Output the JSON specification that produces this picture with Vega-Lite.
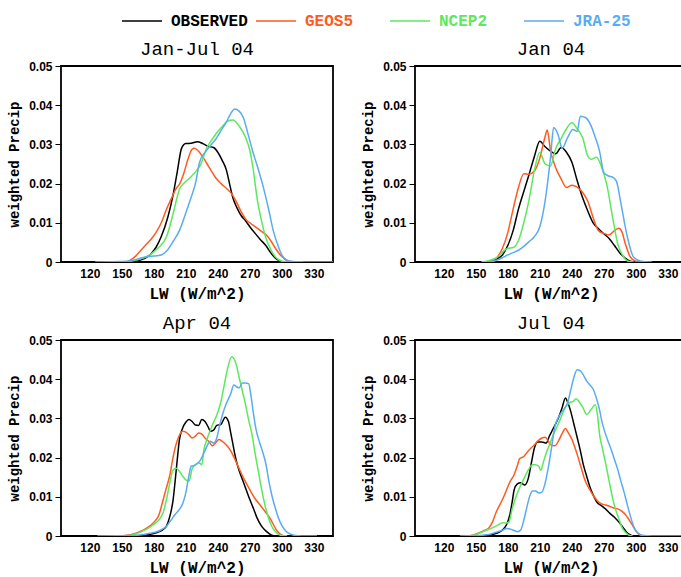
{
"$schema": "https://vega.github.io/schema/vega-lite/v6.json",
"padding": {"left": 6, "top": 0, "right": 0, "bottom": 0},
"background": "white",
"config": {
  "view": {"stroke": "#000000", "strokeWidth": 1.8},
  "title": {"font": "Liberation Mono", "fontSize": 19, "fontWeight": "normal", "color": "#000000", "offset": 1, "anchor": "middle"},
  "axis": {"grid": false, "domain": false, "labelColor": "#000000", "titleColor": "#000000"},
  "legend": {"orient": "none", "legendX": 60, "legendY": -66, "direction": "horizontal", "columns": 4, "gridAlign": "all", "columnPadding": 5, "padding": 0, "symbolType": "stroke", "symbolSize": 1600, "symbolStrokeWidth": 1.5, "labelFont": "Liberation Mono", "labelFontSize": 16, "labelFontWeight": "bold", "labelOffset": 8, "title": null}
},
"datasets": {
"p1": [
{"s":"OBSERVED","x":140,"y":0},{"s":"OBSERVED","x":155,"y":0},{"s":"OBSERVED","x":165,"y":0.0003},{"s":"OBSERVED","x":172,"y":0.0010},{"s":"OBSERVED","x":177,"y":0.0020},{"s":"OBSERVED","x":182,"y":0.0037},{"s":"OBSERVED","x":187,"y":0.0065},{"s":"OBSERVED","x":193,"y":0.0113},{"s":"OBSERVED","x":198,"y":0.0170},{"s":"OBSERVED","x":202,"y":0.0230},{"s":"OBSERVED","x":206,"y":0.0290},{"s":"OBSERVED","x":210,"y":0.0302},{"s":"OBSERVED","x":215,"y":0.0303},{"s":"OBSERVED","x":221,"y":0.0307},{"s":"OBSERVED","x":226,"y":0.0302},{"s":"OBSERVED","x":231,"y":0.0295},{"s":"OBSERVED","x":236,"y":0.0292},{"s":"OBSERVED","x":240,"y":0.0280},{"s":"OBSERVED","x":244,"y":0.0260},{"s":"OBSERVED","x":248,"y":0.0235},{"s":"OBSERVED","x":251,"y":0.0200},{"s":"OBSERVED","x":254,"y":0.0165},{"s":"OBSERVED","x":258,"y":0.0138},{"s":"OBSERVED","x":262,"y":0.0118},{"s":"OBSERVED","x":266,"y":0.0105},{"s":"OBSERVED","x":270,"y":0.0090},{"s":"OBSERVED","x":275,"y":0.0073},{"s":"OBSERVED","x":280,"y":0.0057},{"s":"OBSERVED","x":285,"y":0.0042},{"s":"OBSERVED","x":290,"y":0.0022},{"s":"OBSERVED","x":294,"y":0.0010},{"s":"OBSERVED","x":298,"y":0.0003},{"s":"OBSERVED","x":302,"y":0},{"s":"OBSERVED","x":320,"y":0},
{"s":"GEOS5","x":140,"y":0},{"s":"GEOS5","x":152,"y":0},{"s":"GEOS5","x":158,"y":0.0005},{"s":"GEOS5","x":163,"y":0.0015},{"s":"GEOS5","x":168,"y":0.0030},{"s":"GEOS5","x":173,"y":0.0045},{"s":"GEOS5","x":178,"y":0.0060},{"s":"GEOS5","x":182,"y":0.0075},{"s":"GEOS5","x":187,"y":0.0100},{"s":"GEOS5","x":192,"y":0.0135},{"s":"GEOS5","x":197,"y":0.0165},{"s":"GEOS5","x":201,"y":0.0188},{"s":"GEOS5","x":204,"y":0.0198},{"s":"GEOS5","x":208,"y":0.0225},{"s":"GEOS5","x":212,"y":0.0262},{"s":"GEOS5","x":216,"y":0.0288},{"s":"GEOS5","x":218,"y":0.0290},{"s":"GEOS5","x":221,"y":0.0285},{"s":"GEOS5","x":226,"y":0.0268},{"s":"GEOS5","x":230,"y":0.0250},{"s":"GEOS5","x":234,"y":0.0232},{"s":"GEOS5","x":238,"y":0.0215},{"s":"GEOS5","x":243,"y":0.0200},{"s":"GEOS5","x":248,"y":0.0188},{"s":"GEOS5","x":254,"y":0.0170},{"s":"GEOS5","x":258,"y":0.0150},{"s":"GEOS5","x":262,"y":0.0128},{"s":"GEOS5","x":266,"y":0.0110},{"s":"GEOS5","x":270,"y":0.0100},{"s":"GEOS5","x":275,"y":0.0090},{"s":"GEOS5","x":280,"y":0.0080},{"s":"GEOS5","x":285,"y":0.0070},{"s":"GEOS5","x":290,"y":0.0053},{"s":"GEOS5","x":294,"y":0.0035},{"s":"GEOS5","x":298,"y":0.0020},{"s":"GEOS5","x":301,"y":0.0012},{"s":"GEOS5","x":304,"y":0.0005},{"s":"GEOS5","x":308,"y":0.0001},{"s":"GEOS5","x":312,"y":0},{"s":"GEOS5","x":320,"y":0},
{"s":"NCEP2","x":140,"y":0},{"s":"NCEP2","x":150,"y":0},{"s":"NCEP2","x":160,"y":0.0003},{"s":"NCEP2","x":168,"y":0.0008},{"s":"NCEP2","x":174,"y":0.0015},{"s":"NCEP2","x":179,"y":0.0024},{"s":"NCEP2","x":185,"y":0.0038},{"s":"NCEP2","x":192,"y":0.0065},{"s":"NCEP2","x":198,"y":0.0122},{"s":"NCEP2","x":204,"y":0.0185},{"s":"NCEP2","x":209,"y":0.0203},{"s":"NCEP2","x":214,"y":0.0215},{"s":"NCEP2","x":220,"y":0.0233},{"s":"NCEP2","x":224,"y":0.0249},{"s":"NCEP2","x":229,"y":0.0287},{"s":"NCEP2","x":234,"y":0.0310},{"s":"NCEP2","x":238,"y":0.0326},{"s":"NCEP2","x":244,"y":0.0345},{"s":"NCEP2","x":249,"y":0.0359},{"s":"NCEP2","x":254,"y":0.0362},{"s":"NCEP2","x":260,"y":0.0347},{"s":"NCEP2","x":266,"y":0.0318},{"s":"NCEP2","x":270,"y":0.0285},{"s":"NCEP2","x":273,"y":0.0240},{"s":"NCEP2","x":277,"y":0.0160},{"s":"NCEP2","x":281,"y":0.0105},{"s":"NCEP2","x":285,"y":0.0062},{"s":"NCEP2","x":290,"y":0.0030},{"s":"NCEP2","x":295,"y":0.0010},{"s":"NCEP2","x":300,"y":0.0002},{"s":"NCEP2","x":306,"y":0},{"s":"NCEP2","x":320,"y":0},
{"s":"JRA-25","x":125,"y":0},{"s":"JRA-25","x":150,"y":0.0001},{"s":"JRA-25","x":160,"y":0.0004},{"s":"JRA-25","x":168,"y":0.0010},{"s":"JRA-25","x":175,"y":0.0014},{"s":"JRA-25","x":180,"y":0.0015},{"s":"JRA-25","x":187,"y":0.0018},{"s":"JRA-25","x":192,"y":0.0028},{"s":"JRA-25","x":198,"y":0.0052},{"s":"JRA-25","x":204,"y":0.0080},{"s":"JRA-25","x":210,"y":0.0125},{"s":"JRA-25","x":215,"y":0.0165},{"s":"JRA-25","x":219,"y":0.0200},{"s":"JRA-25","x":223,"y":0.0255},{"s":"JRA-25","x":229,"y":0.0283},{"s":"JRA-25","x":234,"y":0.0300},{"s":"JRA-25","x":238,"y":0.0313},{"s":"JRA-25","x":243,"y":0.0335},{"s":"JRA-25","x":248,"y":0.0357},{"s":"JRA-25","x":252,"y":0.0378},{"s":"JRA-25","x":256,"y":0.0390},{"s":"JRA-25","x":260,"y":0.0385},{"s":"JRA-25","x":264,"y":0.0368},{"s":"JRA-25","x":268,"y":0.0330},{"s":"JRA-25","x":273,"y":0.0280},{"s":"JRA-25","x":277,"y":0.0245},{"s":"JRA-25","x":282,"y":0.0198},{"s":"JRA-25","x":288,"y":0.0130},{"s":"JRA-25","x":292,"y":0.0080},{"s":"JRA-25","x":296,"y":0.0045},{"s":"JRA-25","x":300,"y":0.0018},{"s":"JRA-25","x":304,"y":0.0006},{"s":"JRA-25","x":310,"y":0.0001},{"s":"JRA-25","x":318,"y":0},{"s":"JRA-25","x":348,"y":0}
],
"p2": [
{"s":"OBSERVED","x":160,"y":0},{"s":"OBSERVED","x":165,"y":0.0002},{"s":"OBSERVED","x":170,"y":0.0008},{"s":"OBSERVED","x":175,"y":0.0018},{"s":"OBSERVED","x":180,"y":0.0042},{"s":"OBSERVED","x":185,"y":0.0080},{"s":"OBSERVED","x":190,"y":0.0135},{"s":"OBSERVED","x":195,"y":0.0180},{"s":"OBSERVED","x":200,"y":0.0224},{"s":"OBSERVED","x":205,"y":0.0270},{"s":"OBSERVED","x":210,"y":0.0308},{"s":"OBSERVED","x":215,"y":0.0294},{"s":"OBSERVED","x":220,"y":0.0283},{"s":"OBSERVED","x":225,"y":0.0276},{"s":"OBSERVED","x":230,"y":0.0292},{"s":"OBSERVED","x":235,"y":0.0280},{"s":"OBSERVED","x":240,"y":0.0255},{"s":"OBSERVED","x":245,"y":0.0208},{"s":"OBSERVED","x":250,"y":0.0165},{"s":"OBSERVED","x":255,"y":0.0130},{"s":"OBSERVED","x":260,"y":0.0100},{"s":"OBSERVED","x":265,"y":0.0085},{"s":"OBSERVED","x":270,"y":0.0072},{"s":"OBSERVED","x":275,"y":0.0060},{"s":"OBSERVED","x":280,"y":0.0042},{"s":"OBSERVED","x":285,"y":0.0023},{"s":"OBSERVED","x":290,"y":0.0010},{"s":"OBSERVED","x":295,"y":0.0002},{"s":"OBSERVED","x":300,"y":0},
{"s":"GEOS5","x":160,"y":0},{"s":"GEOS5","x":165,"y":0.0004},{"s":"GEOS5","x":170,"y":0.0012},{"s":"GEOS5","x":175,"y":0.0035},{"s":"GEOS5","x":180,"y":0.0075},{"s":"GEOS5","x":185,"y":0.0135},{"s":"GEOS5","x":190,"y":0.0190},{"s":"GEOS5","x":195,"y":0.0225},{"s":"GEOS5","x":200,"y":0.0224},{"s":"GEOS5","x":205,"y":0.0232},{"s":"GEOS5","x":210,"y":0.0265},{"s":"GEOS5","x":215,"y":0.0320},{"s":"GEOS5","x":217,"y":0.0337},{"s":"GEOS5","x":220,"y":0.0285},{"s":"GEOS5","x":225,"y":0.0240},{"s":"GEOS5","x":230,"y":0.0212},{"s":"GEOS5","x":235,"y":0.0190},{"s":"GEOS5","x":240,"y":0.0196},{"s":"GEOS5","x":245,"y":0.0191},{"s":"GEOS5","x":250,"y":0.0178},{"s":"GEOS5","x":255,"y":0.0155},{"s":"GEOS5","x":260,"y":0.0113},{"s":"GEOS5","x":265,"y":0.0080},{"s":"GEOS5","x":270,"y":0.0073},{"s":"GEOS5","x":275,"y":0.0069},{"s":"GEOS5","x":280,"y":0.0080},{"s":"GEOS5","x":284,"y":0.0086},{"s":"GEOS5","x":287,"y":0.0077},{"s":"GEOS5","x":290,"y":0.0048},{"s":"GEOS5","x":295,"y":0.0012},{"s":"GEOS5","x":300,"y":0.0002},{"s":"GEOS5","x":305,"y":0},
{"s":"NCEP2","x":155,"y":0},{"s":"NCEP2","x":160,"y":0.0002},{"s":"NCEP2","x":165,"y":0.0006},{"s":"NCEP2","x":170,"y":0.0012},{"s":"NCEP2","x":175,"y":0.0025},{"s":"NCEP2","x":180,"y":0.0035},{"s":"NCEP2","x":185,"y":0.0037},{"s":"NCEP2","x":190,"y":0.0055},{"s":"NCEP2","x":195,"y":0.0100},{"s":"NCEP2","x":200,"y":0.0160},{"s":"NCEP2","x":205,"y":0.0235},{"s":"NCEP2","x":210,"y":0.0280},{"s":"NCEP2","x":215,"y":0.0250},{"s":"NCEP2","x":220,"y":0.0245},{"s":"NCEP2","x":225,"y":0.0290},{"s":"NCEP2","x":230,"y":0.0315},{"s":"NCEP2","x":235,"y":0.0340},{"s":"NCEP2","x":240,"y":0.0355},{"s":"NCEP2","x":245,"y":0.0340},{"s":"NCEP2","x":250,"y":0.0318},{"s":"NCEP2","x":255,"y":0.0270},{"s":"NCEP2","x":258,"y":0.0262},{"s":"NCEP2","x":263,"y":0.0267},{"s":"NCEP2","x":268,"y":0.0242},{"s":"NCEP2","x":273,"y":0.0195},{"s":"NCEP2","x":278,"y":0.0118},{"s":"NCEP2","x":283,"y":0.0047},{"s":"NCEP2","x":288,"y":0.0015},{"s":"NCEP2","x":293,"y":0.0002},{"s":"NCEP2","x":298,"y":0},
{"s":"JRA-25","x":160,"y":0},{"s":"JRA-25","x":165,"y":0.0001},{"s":"JRA-25","x":170,"y":0.0005},{"s":"JRA-25","x":175,"y":0.0011},{"s":"JRA-25","x":180,"y":0.0018},{"s":"JRA-25","x":185,"y":0.0024},{"s":"JRA-25","x":190,"y":0.0030},{"s":"JRA-25","x":195,"y":0.0040},{"s":"JRA-25","x":200,"y":0.0052},{"s":"JRA-25","x":205,"y":0.0065},{"s":"JRA-25","x":210,"y":0.0090},{"s":"JRA-25","x":215,"y":0.0156},{"s":"JRA-25","x":220,"y":0.0265},{"s":"JRA-25","x":223,"y":0.0343},{"s":"JRA-25","x":227,"y":0.0326},{"s":"JRA-25","x":231,"y":0.0290},{"s":"JRA-25","x":236,"y":0.0317},{"s":"JRA-25","x":241,"y":0.0338},{"s":"JRA-25","x":245,"y":0.0333},{"s":"JRA-25","x":248,"y":0.0372},{"s":"JRA-25","x":253,"y":0.0368},{"s":"JRA-25","x":258,"y":0.0348},{"s":"JRA-25","x":262,"y":0.0318},{"s":"JRA-25","x":266,"y":0.0283},{"s":"JRA-25","x":270,"y":0.0228},{"s":"JRA-25","x":274,"y":0.0220},{"s":"JRA-25","x":279,"y":0.0215},{"s":"JRA-25","x":282,"y":0.0205},{"s":"JRA-25","x":286,"y":0.0150},{"s":"JRA-25","x":292,"y":0.0065},{"s":"JRA-25","x":298,"y":0.0012},{"s":"JRA-25","x":305,"y":0.0002},{"s":"JRA-25","x":315,"y":0}
],
"p3": [
{"s":"OBSERVED","x":165,"y":0},{"s":"OBSERVED","x":172,"y":0.0002},{"s":"OBSERVED","x":178,"y":0.0005},{"s":"OBSERVED","x":183,"y":0.0009},{"s":"OBSERVED","x":188,"y":0.0015},{"s":"OBSERVED","x":192,"y":0.0026},{"s":"OBSERVED","x":195,"y":0.0050},{"s":"OBSERVED","x":198,"y":0.0090},{"s":"OBSERVED","x":200,"y":0.0140},{"s":"OBSERVED","x":202,"y":0.0195},{"s":"OBSERVED","x":204,"y":0.0245},{"s":"OBSERVED","x":207,"y":0.0275},{"s":"OBSERVED","x":210,"y":0.0290},{"s":"OBSERVED","x":213,"y":0.0297},{"s":"OBSERVED","x":216,"y":0.0292},{"s":"OBSERVED","x":219,"y":0.0283},{"s":"OBSERVED","x":222,"y":0.0282},{"s":"OBSERVED","x":225,"y":0.0297},{"s":"OBSERVED","x":228,"y":0.0292},{"s":"OBSERVED","x":231,"y":0.0278},{"s":"OBSERVED","x":233,"y":0.0267},{"s":"OBSERVED","x":236,"y":0.0270},{"s":"OBSERVED","x":239,"y":0.0282},{"s":"OBSERVED","x":243,"y":0.0285},{"s":"OBSERVED","x":247,"y":0.0303},{"s":"OBSERVED","x":250,"y":0.0292},{"s":"OBSERVED","x":252,"y":0.0265},{"s":"OBSERVED","x":254,"y":0.0237},{"s":"OBSERVED","x":256,"y":0.0208},{"s":"OBSERVED","x":259,"y":0.0175},{"s":"OBSERVED","x":262,"y":0.0152},{"s":"OBSERVED","x":265,"y":0.0130},{"s":"OBSERVED","x":269,"y":0.0100},{"s":"OBSERVED","x":273,"y":0.0073},{"s":"OBSERVED","x":277,"y":0.0045},{"s":"OBSERVED","x":281,"y":0.0025},{"s":"OBSERVED","x":285,"y":0.0013},{"s":"OBSERVED","x":290,"y":0.0003},{"s":"OBSERVED","x":295,"y":0},
{"s":"GEOS5","x":150,"y":0},{"s":"GEOS5","x":158,"y":0.0003},{"s":"GEOS5","x":164,"y":0.0008},{"s":"GEOS5","x":170,"y":0.0015},{"s":"GEOS5","x":176,"y":0.0025},{"s":"GEOS5","x":181,"y":0.0038},{"s":"GEOS5","x":185,"y":0.0055},{"s":"GEOS5","x":188,"y":0.0085},{"s":"GEOS5","x":191,"y":0.0115},{"s":"GEOS5","x":195,"y":0.0155},{"s":"GEOS5","x":198,"y":0.0200},{"s":"GEOS5","x":201,"y":0.0235},{"s":"GEOS5","x":204,"y":0.0257},{"s":"GEOS5","x":207,"y":0.0267},{"s":"GEOS5","x":210,"y":0.0265},{"s":"GEOS5","x":213,"y":0.0258},{"s":"GEOS5","x":216,"y":0.0250},{"s":"GEOS5","x":219,"y":0.0255},{"s":"GEOS5","x":222,"y":0.0263},{"s":"GEOS5","x":225,"y":0.0260},{"s":"GEOS5","x":228,"y":0.0250},{"s":"GEOS5","x":232,"y":0.0240},{"s":"GEOS5","x":235,"y":0.0230},{"s":"GEOS5","x":238,"y":0.0238},{"s":"GEOS5","x":241,"y":0.0246},{"s":"GEOS5","x":244,"y":0.0242},{"s":"GEOS5","x":248,"y":0.0232},{"s":"GEOS5","x":252,"y":0.0218},{"s":"GEOS5","x":256,"y":0.0196},{"s":"GEOS5","x":260,"y":0.0172},{"s":"GEOS5","x":265,"y":0.0143},{"s":"GEOS5","x":270,"y":0.0118},{"s":"GEOS5","x":275,"y":0.0095},{"s":"GEOS5","x":280,"y":0.0078},{"s":"GEOS5","x":285,"y":0.0060},{"s":"GEOS5","x":289,"y":0.0045},{"s":"GEOS5","x":292,"y":0.0030},{"s":"GEOS5","x":295,"y":0.0015},{"s":"GEOS5","x":298,"y":0.0006},{"s":"GEOS5","x":301,"y":0.0001},{"s":"GEOS5","x":305,"y":0},
{"s":"NCEP2","x":155,"y":0},{"s":"NCEP2","x":163,"y":0.0005},{"s":"NCEP2","x":170,"y":0.0013},{"s":"NCEP2","x":176,"y":0.0022},{"s":"NCEP2","x":182,"y":0.0034},{"s":"NCEP2","x":186,"y":0.0045},{"s":"NCEP2","x":189,"y":0.0062},{"s":"NCEP2","x":192,"y":0.0095},{"s":"NCEP2","x":195,"y":0.0135},{"s":"NCEP2","x":198,"y":0.0168},{"s":"NCEP2","x":201,"y":0.0173},{"s":"NCEP2","x":204,"y":0.0165},{"s":"NCEP2","x":207,"y":0.0153},{"s":"NCEP2","x":210,"y":0.0143},{"s":"NCEP2","x":213,"y":0.0140},{"s":"NCEP2","x":216,"y":0.0172},{"s":"NCEP2","x":219,"y":0.0182},{"s":"NCEP2","x":222,"y":0.0187},{"s":"NCEP2","x":225,"y":0.0182},{"s":"NCEP2","x":227,"y":0.0220},{"s":"NCEP2","x":230,"y":0.0248},{"s":"NCEP2","x":233,"y":0.0270},{"s":"NCEP2","x":236,"y":0.0290},{"s":"NCEP2","x":239,"y":0.0308},{"s":"NCEP2","x":243,"y":0.0343},{"s":"NCEP2","x":246,"y":0.0385},{"s":"NCEP2","x":249,"y":0.0425},{"s":"NCEP2","x":253,"y":0.0457},{"s":"NCEP2","x":257,"y":0.0440},{"s":"NCEP2","x":260,"y":0.0405},{"s":"NCEP2","x":263,"y":0.0370},{"s":"NCEP2","x":266,"y":0.0335},{"s":"NCEP2","x":269,"y":0.0295},{"s":"NCEP2","x":272,"y":0.0260},{"s":"NCEP2","x":275,"y":0.0210},{"s":"NCEP2","x":278,"y":0.0165},{"s":"NCEP2","x":281,"y":0.0120},{"s":"NCEP2","x":285,"y":0.0070},{"s":"NCEP2","x":289,"y":0.0035},{"s":"NCEP2","x":292,"y":0.0018},{"s":"NCEP2","x":296,"y":0.0006},{"s":"NCEP2","x":300,"y":0.0001},{"s":"NCEP2","x":305,"y":0},
{"s":"JRA-25","x":127,"y":0},{"s":"JRA-25","x":160,"y":0.0001},{"s":"JRA-25","x":170,"y":0.0004},{"s":"JRA-25","x":176,"y":0.0007},{"s":"JRA-25","x":182,"y":0.0010},{"s":"JRA-25","x":187,"y":0.0016},{"s":"JRA-25","x":192,"y":0.0025},{"s":"JRA-25","x":196,"y":0.0040},{"s":"JRA-25","x":200,"y":0.0055},{"s":"JRA-25","x":204,"y":0.0068},{"s":"JRA-25","x":207,"y":0.0082},{"s":"JRA-25","x":210,"y":0.0110},{"s":"JRA-25","x":213,"y":0.0155},{"s":"JRA-25","x":215,"y":0.0178},{"s":"JRA-25","x":218,"y":0.0180},{"s":"JRA-25","x":221,"y":0.0185},{"s":"JRA-25","x":224,"y":0.0195},{"s":"JRA-25","x":227,"y":0.0212},{"s":"JRA-25","x":230,"y":0.0230},{"s":"JRA-25","x":233,"y":0.0242},{"s":"JRA-25","x":236,"y":0.0237},{"s":"JRA-25","x":239,"y":0.0250},{"s":"JRA-25","x":242,"y":0.0285},{"s":"JRA-25","x":245,"y":0.0315},{"s":"JRA-25","x":248,"y":0.0338},{"s":"JRA-25","x":252,"y":0.0362},{"s":"JRA-25","x":255,"y":0.0385},{"s":"JRA-25","x":258,"y":0.0380},{"s":"JRA-25","x":260,"y":0.0378},{"s":"JRA-25","x":263,"y":0.0390},{"s":"JRA-25","x":266,"y":0.0390},{"s":"JRA-25","x":269,"y":0.0388},{"s":"JRA-25","x":271,"y":0.0360},{"s":"JRA-25","x":273,"y":0.0320},{"s":"JRA-25","x":276,"y":0.0270},{"s":"JRA-25","x":279,"y":0.0240},{"s":"JRA-25","x":282,"y":0.0215},{"s":"JRA-25","x":285,"y":0.0185},{"s":"JRA-25","x":288,"y":0.0138},{"s":"JRA-25","x":291,"y":0.0100},{"s":"JRA-25","x":294,"y":0.0070},{"s":"JRA-25","x":297,"y":0.0045},{"s":"JRA-25","x":300,"y":0.0027},{"s":"JRA-25","x":304,"y":0.0012},{"s":"JRA-25","x":308,"y":0.0005},{"s":"JRA-25","x":313,"y":0.0001},{"s":"JRA-25","x":318,"y":0},{"s":"JRA-25","x":333,"y":0}
],
"p4": [
{"s":"OBSERVED","x":150,"y":0},{"s":"OBSERVED","x":160,"y":0.0001},{"s":"OBSERVED","x":167,"y":0.0005},{"s":"OBSERVED","x":172,"y":0.0010},{"s":"OBSERVED","x":176,"y":0.0018},{"s":"OBSERVED","x":179,"y":0.0030},{"s":"OBSERVED","x":182,"y":0.0055},{"s":"OBSERVED","x":184,"y":0.0085},{"s":"OBSERVED","x":186,"y":0.0118},{"s":"OBSERVED","x":189,"y":0.0133},{"s":"OBSERVED","x":192,"y":0.0136},{"s":"OBSERVED","x":196,"y":0.0130},{"s":"OBSERVED","x":199,"y":0.0145},{"s":"OBSERVED","x":202,"y":0.0185},{"s":"OBSERVED","x":205,"y":0.0225},{"s":"OBSERVED","x":208,"y":0.0240},{"s":"OBSERVED","x":212,"y":0.0240},{"s":"OBSERVED","x":216,"y":0.0237},{"s":"OBSERVED","x":219,"y":0.0255},{"s":"OBSERVED","x":222,"y":0.0271},{"s":"OBSERVED","x":225,"y":0.0287},{"s":"OBSERVED","x":228,"y":0.0305},{"s":"OBSERVED","x":231,"y":0.0328},{"s":"OBSERVED","x":234,"y":0.0352},{"s":"OBSERVED","x":236,"y":0.0342},{"s":"OBSERVED","x":239,"y":0.0318},{"s":"OBSERVED","x":242,"y":0.0285},{"s":"OBSERVED","x":245,"y":0.0252},{"s":"OBSERVED","x":248,"y":0.0218},{"s":"OBSERVED","x":251,"y":0.0180},{"s":"OBSERVED","x":254,"y":0.0152},{"s":"OBSERVED","x":257,"y":0.0125},{"s":"OBSERVED","x":260,"y":0.0105},{"s":"OBSERVED","x":264,"y":0.0085},{"s":"OBSERVED","x":268,"y":0.0077},{"s":"OBSERVED","x":272,"y":0.0068},{"s":"OBSERVED","x":276,"y":0.0057},{"s":"OBSERVED","x":280,"y":0.0048},{"s":"OBSERVED","x":284,"y":0.0036},{"s":"OBSERVED","x":288,"y":0.0022},{"s":"OBSERVED","x":291,"y":0.0011},{"s":"OBSERVED","x":294,"y":0.0004},{"s":"OBSERVED","x":297,"y":0},
{"s":"GEOS5","x":140,"y":0},{"s":"GEOS5","x":147,"y":0.0002},{"s":"GEOS5","x":152,"y":0.0007},{"s":"GEOS5","x":157,"y":0.0013},{"s":"GEOS5","x":162,"y":0.0020},{"s":"GEOS5","x":166,"y":0.0038},{"s":"GEOS5","x":169,"y":0.0060},{"s":"GEOS5","x":172,"y":0.0077},{"s":"GEOS5","x":175,"y":0.0093},{"s":"GEOS5","x":178,"y":0.0112},{"s":"GEOS5","x":182,"y":0.0138},{"s":"GEOS5","x":186,"y":0.0157},{"s":"GEOS5","x":189,"y":0.0180},{"s":"GEOS5","x":191,"y":0.0197},{"s":"GEOS5","x":195,"y":0.0203},{"s":"GEOS5","x":198,"y":0.0213},{"s":"GEOS5","x":202,"y":0.0225},{"s":"GEOS5","x":205,"y":0.0233},{"s":"GEOS5","x":208,"y":0.0242},{"s":"GEOS5","x":212,"y":0.0250},{"s":"GEOS5","x":215,"y":0.0252},{"s":"GEOS5","x":218,"y":0.0242},{"s":"GEOS5","x":220,"y":0.0233},{"s":"GEOS5","x":224,"y":0.0230},{"s":"GEOS5","x":228,"y":0.0245},{"s":"GEOS5","x":231,"y":0.0262},{"s":"GEOS5","x":234,"y":0.0274},{"s":"GEOS5","x":237,"y":0.0262},{"s":"GEOS5","x":240,"y":0.0247},{"s":"GEOS5","x":243,"y":0.0225},{"s":"GEOS5","x":246,"y":0.0200},{"s":"GEOS5","x":249,"y":0.0172},{"s":"GEOS5","x":252,"y":0.0145},{"s":"GEOS5","x":256,"y":0.0122},{"s":"GEOS5","x":260,"y":0.0104},{"s":"GEOS5","x":264,"y":0.0090},{"s":"GEOS5","x":268,"y":0.0082},{"s":"GEOS5","x":272,"y":0.0079},{"s":"GEOS5","x":276,"y":0.0075},{"s":"GEOS5","x":280,"y":0.0071},{"s":"GEOS5","x":284,"y":0.0068},{"s":"GEOS5","x":288,"y":0.0061},{"s":"GEOS5","x":291,"y":0.0052},{"s":"GEOS5","x":294,"y":0.0040},{"s":"GEOS5","x":297,"y":0.0027},{"s":"GEOS5","x":300,"y":0.0013},{"s":"GEOS5","x":303,"y":0.0004},{"s":"GEOS5","x":306,"y":0},
{"s":"NCEP2","x":145,"y":0},{"s":"NCEP2","x":150,"y":0.0004},{"s":"NCEP2","x":155,"y":0.0009},{"s":"NCEP2","x":160,"y":0.0015},{"s":"NCEP2","x":165,"y":0.0020},{"s":"NCEP2","x":170,"y":0.0027},{"s":"NCEP2","x":175,"y":0.0034},{"s":"NCEP2","x":178,"y":0.0033},{"s":"NCEP2","x":181,"y":0.0035},{"s":"NCEP2","x":184,"y":0.0068},{"s":"NCEP2","x":187,"y":0.0095},{"s":"NCEP2","x":191,"y":0.0123},{"s":"NCEP2","x":194,"y":0.0140},{"s":"NCEP2","x":197,"y":0.0157},{"s":"NCEP2","x":200,"y":0.0172},{"s":"NCEP2","x":203,"y":0.0182},{"s":"NCEP2","x":206,"y":0.0182},{"s":"NCEP2","x":209,"y":0.0178},{"s":"NCEP2","x":211,"y":0.0168},{"s":"NCEP2","x":213,"y":0.0185},{"s":"NCEP2","x":216,"y":0.0212},{"s":"NCEP2","x":219,"y":0.0232},{"s":"NCEP2","x":222,"y":0.0254},{"s":"NCEP2","x":225,"y":0.0272},{"s":"NCEP2","x":228,"y":0.0290},{"s":"NCEP2","x":231,"y":0.0310},{"s":"NCEP2","x":234,"y":0.0328},{"s":"NCEP2","x":238,"y":0.0340},{"s":"NCEP2","x":241,"y":0.0343},{"s":"NCEP2","x":244,"y":0.0350},{"s":"NCEP2","x":247,"y":0.0342},{"s":"NCEP2","x":250,"y":0.0330},{"s":"NCEP2","x":254,"y":0.0310},{"s":"NCEP2","x":258,"y":0.0322},{"s":"NCEP2","x":262,"y":0.0335},{"s":"NCEP2","x":264,"y":0.0310},{"s":"NCEP2","x":266,"y":0.0260},{"s":"NCEP2","x":269,"y":0.0220},{"s":"NCEP2","x":272,"y":0.0182},{"s":"NCEP2","x":275,"y":0.0140},{"s":"NCEP2","x":278,"y":0.0100},{"s":"NCEP2","x":281,"y":0.0068},{"s":"NCEP2","x":284,"y":0.0045},{"s":"NCEP2","x":287,"y":0.0022},{"s":"NCEP2","x":290,"y":0.0010},{"s":"NCEP2","x":293,"y":0.0003},{"s":"NCEP2","x":297,"y":0},
{"s":"JRA-25","x":135,"y":0},{"s":"JRA-25","x":150,"y":0.0001},{"s":"JRA-25","x":160,"y":0.0003},{"s":"JRA-25","x":165,"y":0.0006},{"s":"JRA-25","x":170,"y":0.0010},{"s":"JRA-25","x":175,"y":0.0015},{"s":"JRA-25","x":179,"y":0.0019},{"s":"JRA-25","x":182,"y":0.0018},{"s":"JRA-25","x":186,"y":0.0014},{"s":"JRA-25","x":189,"y":0.0011},{"s":"JRA-25","x":192,"y":0.0015},{"s":"JRA-25","x":195,"y":0.0040},{"s":"JRA-25","x":198,"y":0.0075},{"s":"JRA-25","x":201,"y":0.0105},{"s":"JRA-25","x":203,"y":0.0115},{"s":"JRA-25","x":206,"y":0.0115},{"s":"JRA-25","x":209,"y":0.0110},{"s":"JRA-25","x":212,"y":0.0112},{"s":"JRA-25","x":215,"y":0.0135},{"s":"JRA-25","x":218,"y":0.0175},{"s":"JRA-25","x":221,"y":0.0225},{"s":"JRA-25","x":224,"y":0.0278},{"s":"JRA-25","x":227,"y":0.0300},{"s":"JRA-25","x":230,"y":0.0314},{"s":"JRA-25","x":233,"y":0.0325},{"s":"JRA-25","x":236,"y":0.0340},{"s":"JRA-25","x":239,"y":0.0372},{"s":"JRA-25","x":242,"y":0.0405},{"s":"JRA-25","x":245,"y":0.0424},{"s":"JRA-25","x":248,"y":0.0421},{"s":"JRA-25","x":251,"y":0.0410},{"s":"JRA-25","x":254,"y":0.0395},{"s":"JRA-25","x":257,"y":0.0385},{"s":"JRA-25","x":260,"y":0.0375},{"s":"JRA-25","x":263,"y":0.0352},{"s":"JRA-25","x":266,"y":0.0322},{"s":"JRA-25","x":268,"y":0.0295},{"s":"JRA-25","x":271,"y":0.0265},{"s":"JRA-25","x":274,"y":0.0242},{"s":"JRA-25","x":277,"y":0.0220},{"s":"JRA-25","x":280,"y":0.0195},{"s":"JRA-25","x":283,"y":0.0170},{"s":"JRA-25","x":286,"y":0.0140},{"s":"JRA-25","x":289,"y":0.0112},{"s":"JRA-25","x":292,"y":0.0080},{"s":"JRA-25","x":295,"y":0.0050},{"s":"JRA-25","x":298,"y":0.0025},{"s":"JRA-25","x":301,"y":0.0010},{"s":"JRA-25","x":304,"y":0.0004},{"s":"JRA-25","x":308,"y":0.0001},{"s":"JRA-25","x":315,"y":0},{"s":"JRA-25","x":348,"y":0}
]
},
"columns": 2,
"spacing": {"row": 11, "column": 26},
"concat": [
 {"data": {"name": "p1"}, "title": "Jan-Jul 04", "width": 272, "height": 196,
  "mark": {"type": "line", "clip": true, "strokeWidth": 1.5, "interpolate": "monotone"},
  "encoding": {
   "x": {"field": "x", "type": "quantitative", "scale": {"domain": [93, 348], "nice": false, "zero": false}, "axis": {"values": [120,150,180,210,240,270,300,330], "ticks": false, "labelPadding": 6, "labelFont": "Liberation Sans", "labelFontSize": 12, "labelFontWeight": "bold", "title": "LW (W/m^2)", "titleFont": "Liberation Mono", "titleFontSize": 16, "titleFontWeight": "bold", "titlePadding": 6}},
   "y": {"field": "y", "type": "quantitative", "scale": {"domain": [0, 0.05], "nice": false}, "axis": {"values": [0,0.01,0.02,0.03,0.04,0.05], "labelExpr": "datum.value == 0 ? '0' : format(datum.value, '.2f')", "tickSize": 6, "tickColor": "#000000", "tickWidth": 1, "labelPadding": 3, "labelFont": "Liberation Sans", "labelFontSize": 12, "labelFontWeight": "bold", "title": "weighted Precip", "titleFont": "Liberation Mono", "titleFontSize": 14, "titleFontWeight": "bold", "titlePadding": 7}},
   "color": {"field": "s", "type": "nominal", "sort": ["OBSERVED","GEOS5","NCEP2","JRA-25"], "scale": {"domain": ["OBSERVED","GEOS5","NCEP2","JRA-25"], "range": ["#000000","#FF5A1F","#5DE85D","#5AACF2"]}, "legend": {"encode": {"labels": {"update": {"fill": {"scale": "color", "field": "value"}}}}}}
  }},
 {"data": {"name": "p2"}, "title": "Jan 04", "width": 272, "height": 196,
  "mark": {"type": "line", "clip": true, "strokeWidth": 1.5, "interpolate": "monotone"},
  "encoding": {
   "x": {"field": "x", "type": "quantitative", "scale": {"domain": [93, 348], "nice": false, "zero": false}, "axis": {"values": [120,150,180,210,240,270,300,330], "ticks": false, "labelPadding": 6, "labelFont": "Liberation Sans", "labelFontSize": 12, "labelFontWeight": "bold", "title": "LW (W/m^2)", "titleFont": "Liberation Mono", "titleFontSize": 16, "titleFontWeight": "bold", "titlePadding": 6}},
   "y": {"field": "y", "type": "quantitative", "scale": {"domain": [0, 0.05], "nice": false}, "axis": {"values": [0,0.01,0.02,0.03,0.04,0.05], "labelExpr": "datum.value == 0 ? '0' : format(datum.value, '.2f')", "tickSize": 6, "tickColor": "#000000", "tickWidth": 1, "labelPadding": 3, "labelFont": "Liberation Sans", "labelFontSize": 12, "labelFontWeight": "bold", "title": "weighted Precip", "titleFont": "Liberation Mono", "titleFontSize": 14, "titleFontWeight": "bold", "titlePadding": 7}},
   "color": {"field": "s", "type": "nominal", "sort": ["OBSERVED","GEOS5","NCEP2","JRA-25"], "scale": {"domain": ["OBSERVED","GEOS5","NCEP2","JRA-25"], "range": ["#000000","#FF5A1F","#5DE85D","#5AACF2"]}, "legend": {"encode": {"labels": {"update": {"fill": {"scale": "color", "field": "value"}}}}}}
  }},
 {"data": {"name": "p3"}, "title": "Apr 04", "width": 272, "height": 196,
  "mark": {"type": "line", "clip": true, "strokeWidth": 1.5, "interpolate": "monotone"},
  "encoding": {
   "x": {"field": "x", "type": "quantitative", "scale": {"domain": [93, 348], "nice": false, "zero": false}, "axis": {"values": [120,150,180,210,240,270,300,330], "ticks": false, "labelPadding": 6, "labelFont": "Liberation Sans", "labelFontSize": 12, "labelFontWeight": "bold", "title": "LW (W/m^2)", "titleFont": "Liberation Mono", "titleFontSize": 16, "titleFontWeight": "bold", "titlePadding": 6}},
   "y": {"field": "y", "type": "quantitative", "scale": {"domain": [0, 0.05], "nice": false}, "axis": {"values": [0,0.01,0.02,0.03,0.04,0.05], "labelExpr": "datum.value == 0 ? '0' : format(datum.value, '.2f')", "tickSize": 6, "tickColor": "#000000", "tickWidth": 1, "labelPadding": 3, "labelFont": "Liberation Sans", "labelFontSize": 12, "labelFontWeight": "bold", "title": "weighted Precip", "titleFont": "Liberation Mono", "titleFontSize": 14, "titleFontWeight": "bold", "titlePadding": 7}},
   "color": {"field": "s", "type": "nominal", "sort": ["OBSERVED","GEOS5","NCEP2","JRA-25"], "scale": {"domain": ["OBSERVED","GEOS5","NCEP2","JRA-25"], "range": ["#000000","#FF5A1F","#5DE85D","#5AACF2"]}, "legend": {"encode": {"labels": {"update": {"fill": {"scale": "color", "field": "value"}}}}}}
  }},
 {"data": {"name": "p4"}, "title": "Jul 04", "width": 272, "height": 196,
  "mark": {"type": "line", "clip": true, "strokeWidth": 1.5, "interpolate": "monotone"},
  "encoding": {
   "x": {"field": "x", "type": "quantitative", "scale": {"domain": [93, 348], "nice": false, "zero": false}, "axis": {"values": [120,150,180,210,240,270,300,330], "ticks": false, "labelPadding": 6, "labelFont": "Liberation Sans", "labelFontSize": 12, "labelFontWeight": "bold", "title": "LW (W/m^2)", "titleFont": "Liberation Mono", "titleFontSize": 16, "titleFontWeight": "bold", "titlePadding": 6}},
   "y": {"field": "y", "type": "quantitative", "scale": {"domain": [0, 0.05], "nice": false}, "axis": {"values": [0,0.01,0.02,0.03,0.04,0.05], "labelExpr": "datum.value == 0 ? '0' : format(datum.value, '.2f')", "tickSize": 6, "tickColor": "#000000", "tickWidth": 1, "labelPadding": 3, "labelFont": "Liberation Sans", "labelFontSize": 12, "labelFontWeight": "bold", "title": "weighted Precip", "titleFont": "Liberation Mono", "titleFontSize": 14, "titleFontWeight": "bold", "titlePadding": 7}},
   "color": {"field": "s", "type": "nominal", "sort": ["OBSERVED","GEOS5","NCEP2","JRA-25"], "scale": {"domain": ["OBSERVED","GEOS5","NCEP2","JRA-25"], "range": ["#000000","#FF5A1F","#5DE85D","#5AACF2"]}, "legend": {"encode": {"labels": {"update": {"fill": {"scale": "color", "field": "value"}}}}}}
  }}
]
}
